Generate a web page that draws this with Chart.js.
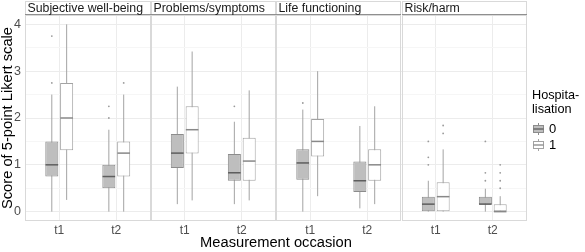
<!DOCTYPE html>
<html>
<head>
<meta charset="utf-8">
<script src="https://cdn.jsdelivr.net/npm/chart.js@4/dist/chart.umd.min.js"></script>
<style>
  html, body { margin: 0; padding: 0; background: #fff; }
</style>
</head>
<body>
<canvas id="boxChart" width="585" height="252"></canvas>
<script>
// facets / x categories / legend groups
const facets = ['Subjective well-being', 'Problems/symptoms', 'Life functioning', 'Risk/harm'];
const occasions = ['t1', 't2'];
const groups = ['0', '1'];
const yTicks = [0, 1, 2, 3, 4];

// box stats, one value per slot: facet 1 t1, facet 1 t2, facet 2 t1, ...
// Hospitalisation = 0
const lower0 = [0, 0, 0.16, 0.16, 0, 0.07, 0, 0];
const q1_0 = [0.75, 0.5, 0.93, 0.66, 0.68, 0.42, 0, 0.16];
const median0 = [1.0, 0.75, 1.25, 0.83, 1.04, 0.66, 0.16, 0.16];
const q3_0 = [1.5, 1.0, 1.66, 1.23, 1.33, 1.07, 0.32, 0.32];
const upper0 = [2.5, 1.75, 2.67, 1.92, 2.18, 1.83, 0.66, 0.49];
const outliers0 = [[0, 2.75], [0, 3.75], [1, 2.0], [1, 2.25], [3, 2.25], [4, 2.32],
                   [6, 1.0], [6, 1.16], [6, 1.5], [7, 0.66], [7, 0.83], [7, 1.5]];

// Hospitalisation = 1
const lower1 = [0.25, 0, 0.24, 0.24, 0.33, 0.16, 0, 0];
const q1_1 = [1.31, 0.75, 1.24, 0.66, 1.18, 0.66, 0, 0];
const median1 = [2.0, 1.25, 1.75, 1.08, 1.5, 1.0, 0.32, 0];
const q3_1 = [2.75, 1.5, 2.25, 1.58, 1.98, 1.33, 0.63, 0.16];
const upper1 = [4.0, 2.5, 3.42, 2.59, 3.0, 2.25, 1.33, 0.33];
const outliers1 = [[1, 2.75], [6, 1.67], [6, 1.84], [7, 0.5], [7, 0.66], [7, 0.83], [7, 1.0]];

const FONT = "'Liberation Sans', Arial, sans-serif";
const panelStep = 2.2;   // discrete axis 1..2 expanded by 0.6 on each side
const dodge = [-0.13, 0.13];
const boxFill = ['#bebebe', '#ffffff'];
const boxLine = ['#8c8c8c', '#a3a3a3'];
const medLine = ['#5e5e5e', '#888888'];
const whiskerLine = '#a3a3a3';

const slots = facets.length * occasions.length;
const slotX = (i) => Math.floor(i / occasions.length) * panelStep + (i % occasions.length) + 1;
const tickPositions = Array.from({ length: slots }, (_, i) => slotX(i));

function boxDatasets(g, lower, q1, med, q3, upper, outs) {
  const xs = tickPositions.map(x => x + dodge[g]);
  const whiskers = [];
  xs.forEach((x, i) => {
    whiskers.push({ x, y: lower[i] }, { x, y: upper[i] }, { x, y: null });
  });
  return [
    {
      type: 'line', label: 'whisker' + g, order: 3,
      data: whiskers, borderColor: whiskerLine, borderWidth: 1,
      pointRadius: 0, spanGaps: false, fill: false, tension: 0
    },
    {
      type: 'bar', label: groups[g], order: 2,
      data: xs.map((x, i) => ({ x, y: [q1[i], q3[i]] })),
      backgroundColor: boxFill[g], borderColor: boxLine[g], borderWidth: 1,
      borderSkipped: false, grouped: false, barPercentage: 0.88, categoryPercentage: 1
    },
    {
      type: 'scatter', label: 'median' + g, order: 1,
      data: xs.map((x, i) => ({ x, y: med[i] })),
      pointStyle: 'line', pointRadius: 6.3, pointBorderWidth: 1.5, pointBorderColor: medLine[g]
    },
    {
      type: 'scatter', label: 'outlier' + g, order: 0,
      data: outs.map(([i, v]) => ({ x: xs[i], y: v })),
      pointRadius: 0.9, pointBorderWidth: 0, pointBackgroundColor: '#9a9a9a'
    }
  ];
}

const panelPlugin = {
  id: 'panels',
  beforeDraw(chart) {
    const { ctx, width, height } = chart;
    ctx.save();
    ctx.fillStyle = '#ffffff';
    ctx.fillRect(0, 0, width, height);
    ctx.restore();
  },
  afterDraw(chart) {
    const { ctx, chartArea } = chart;
    const x = chart.scales.x;
    const stripTop = 1;
    ctx.save();
    ctx.lineWidth = 1;
    facets.forEach((name, p) => {
      const left = Math.round(x.getPixelForValue(p * panelStep + 0.4));
      const right = Math.round(x.getPixelForValue(p * panelStep + 2.6));
      const w = right - left;
      // panel border
      ctx.strokeStyle = '#d9d9d9';
      ctx.strokeRect(left + 0.5, chartArea.top + 0.5, w - 1, chartArea.bottom - chartArea.top - 1);
      // strip
      ctx.fillStyle = '#ffffff';
      ctx.fillRect(left, stripTop, w, chartArea.top - stripTop);
      ctx.strokeStyle = '#d9d9d9';
      ctx.strokeRect(left + 0.5, stripTop + 0.5, w - 1, chartArea.top - stripTop);
      ctx.strokeStyle = '#8f8f8f';
      ctx.beginPath();
      ctx.moveTo(left, chartArea.top - 0.5);
      ctx.lineTo(right, chartArea.top - 0.5);
      ctx.stroke();
      ctx.fillStyle = '#1a1a1a';
      ctx.font = '12.3px ' + FONT;
      ctx.textAlign = 'left';
      ctx.textBaseline = 'middle';
      ctx.fillText(name, left + 2.5, (stripTop + chartArea.top) / 2 + 0.5);
    });

    // legend
    const lx = chartArea.right + 5;
    ctx.fillStyle = '#000000';
    ctx.font = '12.7px ' + FONT;
    ctx.textBaseline = 'alphabetic';
    ctx.fillText('Hospita-', lx, 99);
    ctx.fillText('lisation', lx, 113);
    groups.forEach((label, g) => {
      const cy = 129 + g * 16;
      const kx = lx + 1, kw = 11;
      ctx.strokeStyle = boxLine[g];
      ctx.beginPath();
      ctx.moveTo(kx + kw / 2, cy - 6);
      ctx.lineTo(kx + kw / 2, cy + 6);
      ctx.stroke();
      ctx.fillStyle = boxFill[g];
      ctx.fillRect(kx, cy - 3.5, kw, 7);
      ctx.strokeRect(kx + 0.5, cy - 3.5, kw - 1, 7);
      ctx.strokeStyle = medLine[g];
      ctx.lineWidth = 1.3;
      ctx.beginPath();
      ctx.moveTo(kx + 0.5, cy);
      ctx.lineTo(kx + kw - 0.5, cy);
      ctx.stroke();
      ctx.lineWidth = 1;
      ctx.fillStyle = '#000000';
      ctx.font = '13px ' + FONT;
      ctx.textBaseline = 'middle';
      ctx.fillText(label, lx + 17, cy + 0.5);
    });
    ctx.restore();
  }
};

const datasets = [
  ...boxDatasets(0, lower0, q1_0, median0, q3_0, upper0, outliers0),
  ...boxDatasets(1, lower1, q1_1, median1, q3_1, upper1, outliers1)
];

const gridValues = [];
yTicks.forEach((t, i) => {
  gridValues.push(t);
  if (i < yTicks.length - 1) gridValues.push(t + 0.5);
});

new Chart(document.getElementById('boxChart').getContext('2d'), {
  type: 'bar',
  data: { datasets },
  plugins: [panelPlugin],
  options: {
    responsive: false,
    animation: false,
    events: [],
    layout: { padding: { top: 15, right: 58, left: 0, bottom: 0 } },
    plugins: { legend: { display: false }, tooltip: { enabled: false } },
    scales: {
      x: {
        type: 'linear',
        min: 0.4,
        max: (facets.length - 1) * panelStep + 2.6,
        offset: false,
        afterBuildTicks: (axis) => { axis.ticks = tickPositions.map(v => ({ value: v })); },
        afterFit: (axis) => { axis.height = 31; },
        ticks: {
          autoSkip: false,
          maxRotation: 0,
          padding: 2,
          color: '#4d4d4d',
          font: { family: FONT, size: 12 },
          callback: (value, index) => occasions[index % occasions.length]
        },
        grid: { color: '#ececec', offset: false, drawTicks: false },
        border: { display: false },
        title: {
          display: true,
          text: 'Measurement occasion',
          color: '#000000',
          font: { family: FONT, size: 14.7, lineHeight: 1.1 },
          padding: { top: 0, bottom: 1 }
        }
      },
      y: {
        type: 'linear',
        min: -0.2,
        max: 4.2,
        afterBuildTicks: (axis) => { axis.ticks = gridValues.map(v => ({ value: v })); },
        afterFit: (axis) => { axis.width = 25; },
        ticks: {
          padding: 4,
          color: '#4d4d4d',
          font: { family: FONT, size: 12.5 },
          callback: (value) => Number.isInteger(value) ? String(value) : ''
        },
        grid: {
          drawTicks: false,
          color: (c) => (c.tick && Number.isInteger(c.tick.value)) ? '#ececec' : '#f6f6f6'
        },
        border: { display: false },
        title: {
          display: true,
          text: 'Score of 5-point Likert scale',
          color: '#000000',
          font: { family: FONT, size: 14.7, lineHeight: 1.1 },
          padding: { top: 0, bottom: 0 }
        }
      }
    }
  }
});
</script>
</body>
</html>
